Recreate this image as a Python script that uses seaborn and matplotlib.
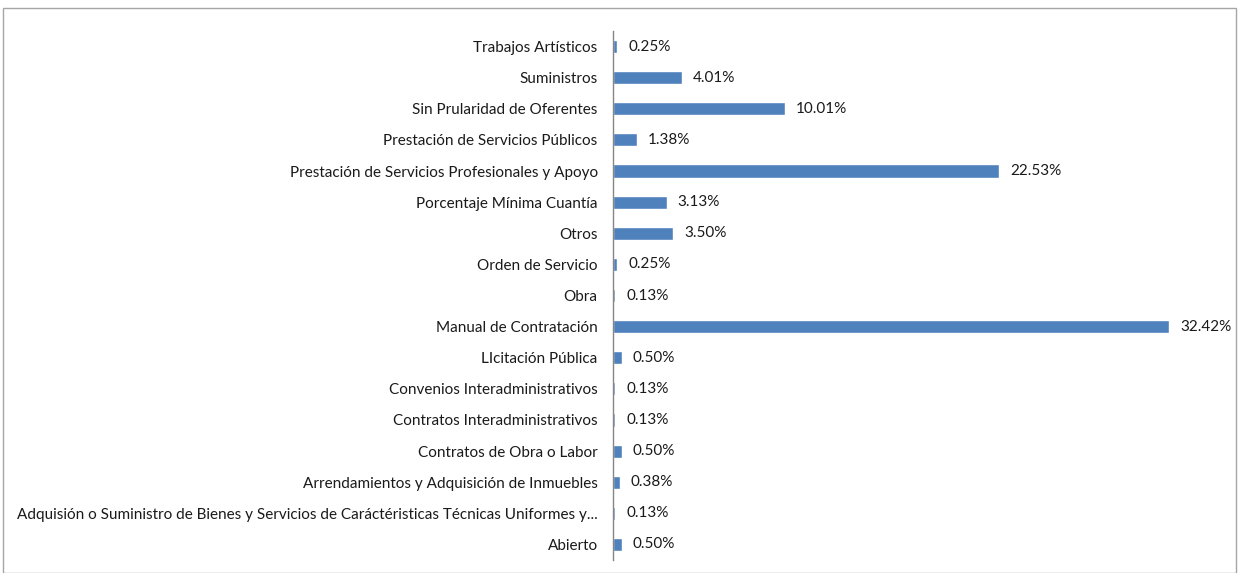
import pandas as pd
import matplotlib
matplotlib.use("Agg")
import matplotlib.pyplot as plt
import seaborn as sns
from matplotlib.patches import Rectangle

# Categories (top to bottom) and share of contracts (%)
categories = [
    "Trabajos Artísticos",
    "Suministros",
    "Sin Prularidad de Oferentes",
    "Prestación de Servicios Públicos",
    "Prestación de Servicios Profesionales y Apoyo",
    "Porcentaje Mínima Cuantía",
    "Otros",
    "Orden de Servicio",
    "Obra",
    "Manual de Contratación",
    "LIcitación Pública",
    "Convenios Interadministrativos",
    "Contratos Interadministrativos",
    "Contratos de Obra o Labor",
    "Arrendamientos y Adquisición de Inmuebles",
    "Adquisión o Suministro de Bienes y Servicios de Caráctéristicas Técnicas Uniformes y...",
    "Abierto",
]
percentages = [0.25, 4.01, 10.01, 1.38, 22.53, 3.13, 3.50, 0.25, 0.13,
               32.42, 0.50, 0.13, 0.13, 0.50, 0.38, 0.13, 0.50]

df = pd.DataFrame({"category": categories, "pct": percentages})

sns.set_style("white")
plt.rcParams["font.family"] = ["Lato", "DejaVu Sans"]

W, H = 1238, 573
fig = plt.figure(figsize=(W / 100, H / 100), dpi=100)
ax = fig.add_axes([613 / W, 1 - 560 / H, 600 / W, (560 - 31) / H])

sns.barplot(data=df, x="pct", y="category", color="#4F81BD", width=0.42,
            saturation=1, ax=ax)

ax.set_xlim(0, 35)
ax.set_xlabel("")
ax.set_ylabel("")
ax.set_xticks([])
ax.tick_params(axis="y", length=0, pad=11, labelsize=11, labelcolor="#1a1a1a")
for side in ["top", "right", "bottom"]:
    ax.spines[side].set_visible(False)
ax.spines["left"].set_color("#868686")
ax.spines["left"].set_linewidth(1)

ax.bar_label(ax.containers[0], labels=[f"{v:.2f}%" for v in percentages],
             padding=8, fontsize=11, color="#1a1a1a")

# outer chart border
fig.patches.append(Rectangle((3 / W, 0), (1236 - 3) / W, 1 - 8 / H,
                             transform=fig.transFigure, fill=False,
                             edgecolor="#a6a6a6", linewidth=1))

fig.savefig("out.png", dpi=100)
